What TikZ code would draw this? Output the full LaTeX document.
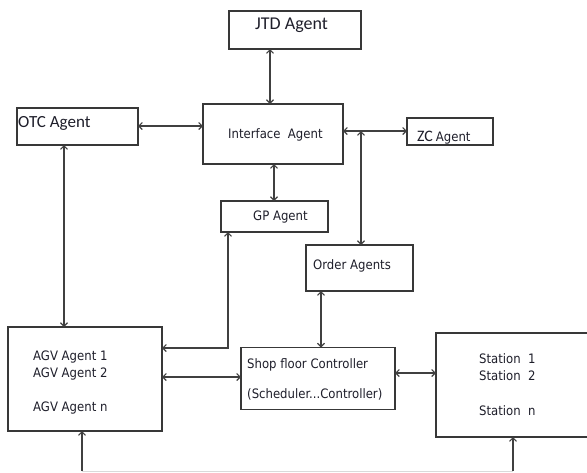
\documentclass[tikz,border=0pt]{standalone}
\usepackage{fontspec}
\setmainfont{DejaVu Sans Condensed}
\newfontfamily\carl{Carlito}
\usetikzlibrary{arrows.meta}
\definecolor{boxc}{HTML}{383838}
\definecolor{linec}{HTML}{404040}
\definecolor{txtc}{HTML}{1E1E2A}
\definecolor{faint}{HTML}{DADADA}
\begin{document}
\begin{tikzpicture}[x=1pt,y=-1pt,
  box/.style={draw=boxc, line width=1.1pt, rectangle, inner sep=0pt, outer sep=0pt},
  tx/.style={anchor=base west, inner sep=0pt, text=txtc, font=\fontsize{13}{15}\selectfont},
  ctx/.style={anchor=base west, inner sep=0pt, text=txtc},
  conn/.style={draw=linec, line width=1.1pt, >={Straight Barb[length=3.5pt,width=7pt]}},
  faintline/.style={draw=faint, line width=1pt}]
\useasboundingbox (0,0) rectangle (587,472);
% boxes
\node[box, minimum width=132pt, minimum height=38pt] (jtd) at (295,30) {};
\node[box, minimum width=140pt, minimum height=60pt] (ifa) at (273,134) {};
\node[box, minimum width=121pt, minimum height=37pt] (otc) at (77.5,126.5) {};
\node[box, minimum width=86pt, minimum height=27pt] (zc) at (450,131.5) {};
\node[box, minimum width=107pt, minimum height=31pt] (gp) at (274.5,216.5) {};
\node[box, minimum width=107pt, minimum height=46pt] (ord) at (359.5,268) {};
\node[box, minimum width=154pt, minimum height=104pt] (agv) at (85,379) {};
\node[box, minimum width=154pt, minimum height=62pt] (shop) at (318,378.5) {};
\node[box, minimum width=159pt, minimum height=104pt] (st) at (515.5,385) {};
% texts
\node[ctx, font=\carl\fontsize{18}{20}\selectfont] (tjtd) at (255,29.3) {JTD Agent};
\node[tx] (tifa) at (228,138.7) {Interface\ \ Agent};
\node[ctx, font=\carl\fontsize{17}{19}\selectfont] (totc) at (18,127.3) {OTC Agent};
\node[ctx] (tzc) at (417,141) {{\carl\fontsize{16}{18}\selectfont ZC} {\fontsize{13}{15}\selectfont Agent}};
\node[tx] (tgp) at (253,220.7) {GP Agent};
\node[tx] (tord) at (313,269.3) {Order Agents};
\node[tx] (tagv1) at (33,360) {AGV Agent 1};
\node[tx] (tagv2) at (33,377.3) {AGV Agent 2};
\node[tx] (tagvn) at (33,411.7) {AGV Agent n};
\node[tx] (tshop1) at (247,368) {Shop floor Controller};
\node[tx] (tshop2) at (247,398.3) {(Scheduler...Controller)};
\node[tx] (tst1) at (479,363.3) {Station\ \ 1};
\node[tx] (tst2) at (479,380.7) {Station\ \ 2};
\node[tx] (tstn) at (479,415) {Station\ \ n};
% helper coordinates
\coordinate (v270) at (270,0);
\coordinate (v274) at (274,0);
\coordinate (v64) at (64,0);
\coordinate (v228) at (228,0);
\coordinate (v321) at (321,0);
\coordinate (h126) at (0,126);
\coordinate (h131) at (0,131);
\coordinate (h348) at (0,348);
\coordinate (h377) at (0,377);
\coordinate (h373) at (0,373);
\coordinate (oz) at (361,131);
\coordinate (b1) at (82,471);
\coordinate (b2) at (513,471);
% connectors
\draw[conn,<->] (jtd.south -| v270) -- (ifa.north -| v270);
\draw[conn,<->] (otc.east |- h126) -- (ifa.west |- h126);
\draw[conn,<->] (ifa.east |- h131) -- (zc.west |- h131);
\draw[conn,<->] (ifa.south -| v274) -- (gp.north -| v274);
\draw[conn,<->] (oz) -- (ord.north -| oz);
\draw[conn,<->] (otc.south -| v64) -- (agv.north -| v64);
\draw[conn,<->] (gp.south -| v228) |- (agv.east |- h348);
\draw[conn,<->] (agv.east |- h377) -- (shop.west |- h377);
\draw[conn,<->] (ord.south -| v321) -- (shop.north -| v321);
\draw[conn,<->] (shop.east |- h373) -- (st.west |- h373);
\draw[faintline] (b1) -- (b2);
\draw[conn,->] (b1) -- (agv.south -| b1);
\draw[conn,->] (b2) -- (st.south -| b2);
\end{tikzpicture}
\end{document}
